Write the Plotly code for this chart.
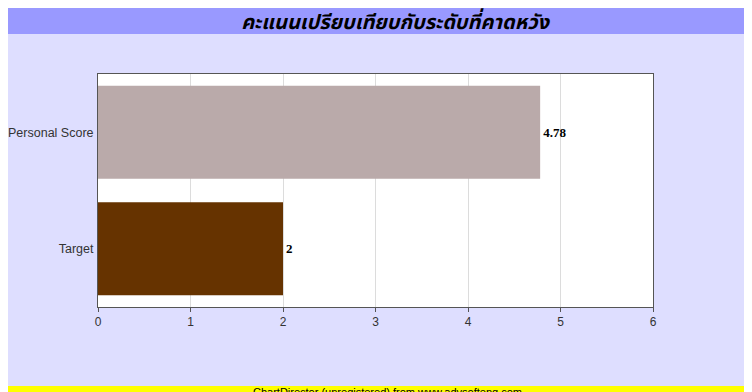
"""คะแนนเปรียบเทียบกับระดับที่คาดหวัง - horizontal bar chart."""

import plotly.graph_objects as go

TITLE = "คะแนนเปรียบเทียบกับระดับที่คาดหวัง"
CATEGORIES = ["Personal Score", "Target"]
SCORES = [4.78, 2]
BAR_COLORS = ["#baaaaa", "#663300"]
X_TICKS = [0, 1, 2, 3, 4, 5, 6]
FOOTER = "ChartDirector (unregistered) from www.advsofteng.com"

_BG = "#dedeff"
_BAND = "#9999ff"
_AXIS = "#555555"
_GRID = "#dcdcdc"

# page body adds an 8px offset; figure coords below are relative to the figure
W, H = 744, 400
L, R, T, B = 90, 99, 66, 101
PW, PH = W - L - R, H - T - B


def px_x(px):
    return (px - L) / PW


def px_y(py):
    return (H - B - py) / PH


fig = go.Figure()
fig.add_trace(
    go.Bar(
        x=SCORES,
        y=CATEGORIES,
        orientation="h",
        marker=dict(color=BAR_COLORS, line=dict(width=0)),
        texttemplate="%{x}",
        textposition="outside",
        cliponaxis=False,
        textfont=dict(family="Liberation Serif", size=13, color="#000000", weight="bold"),
        hoverinfo="skip",
    )
)

shapes = [
    # title band
    dict(type="rect", xref="paper", yref="paper", layer="below",
         x0=px_x(0), x1=px_x(W), y0=px_y(26), y1=px_y(0),
         fillcolor=_BAND, line=dict(width=0)),
    # footer strip
    dict(type="rect", xref="paper", yref="paper", layer="below",
         x0=px_x(0), x1=px_x(W), y0=px_y(H), y1=px_y(378),
         fillcolor="#ffff00", line=dict(width=0)),
]

fig.update_layout(
    width=W,
    height=H,
    margin=dict(l=L, r=R, t=T, b=B, autoexpand=False),
    paper_bgcolor=_BG,
    plot_bgcolor="#ffffff",
    showlegend=False,
    bargap=0.2,
    shapes=shapes,
    title=dict(
        text=TITLE,
        x=387 / W,
        xanchor="center",
        y=1 - 14 / H,
        yanchor="middle",
        font=dict(family="Tahoma, Noto Sans Thai, Loma, sans-serif", size=20,
                  color="#000000", weight="bold", style="italic"),
    ),
    annotations=[
        dict(text=FOOTER, xref="paper", yref="paper", x=px_x(379), y=px_y(376),
             xanchor="center", yanchor="top", showarrow=False,
             font=dict(family="Liberation Sans", size=11, color="#000000")),
    ],
    font=dict(family="Liberation Sans", size=12, color="#333333"),
    xaxis=dict(
        range=[0, 6],
        tickvals=X_TICKS,
        showgrid=True,
        gridcolor=_GRID,
        zeroline=False,
        showline=True,
        linecolor=_AXIS,
        linewidth=1,
        mirror=True,
        ticks="outside",
        ticklen=4,
        tickcolor=_AXIS,
        tickfont=dict(size=12, color="#333333"),
    ),
    yaxis=dict(
        autorange="reversed",
        showgrid=False,
        zeroline=False,
        showline=True,
        linecolor=_AXIS,
        linewidth=1,
        mirror=True,
        ticks="",
        ticklabelstandoff=1,
        tickfont=dict(size=12.5, color="#333333"),
    ),
)

fig.write_html("out.html")
